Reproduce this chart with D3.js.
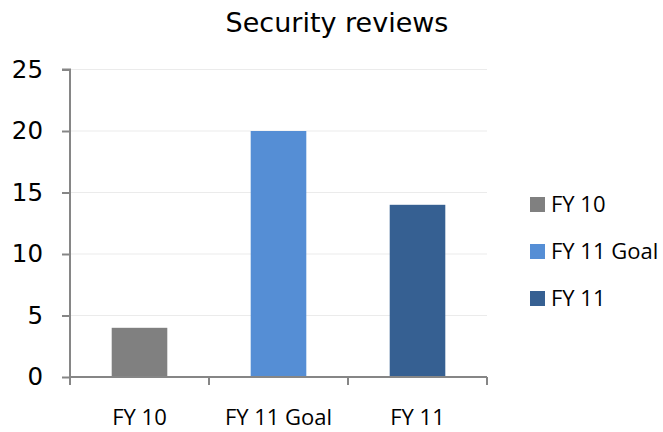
<!DOCTYPE html>
<html>
<head>
<meta charset="utf-8">
<script src="https://cdn.jsdelivr.net/npm/d3@7"></script>
<style>
  body { margin: 0; background: #fff; }
</style>
</head>
<body>
<div id="chart"></div>
<script>
const categories = ["FY 10", "FY 11 Goal", "FY 11"];
const values = [4, 20, 14];
const colors = ["#808080", "#558ed5", "#366092"];
const yTicks = [0, 5, 10, 15, 20, 25];

const width = 663;
const height = 432;
const plotLeft = 70, plotRight = 487, plotTop = 69.5, plotBottom = 377;

const svg = d3.select("#chart")
    .append("svg")
    .attr("width", width)
    .attr("height", height);

const x = d3.scaleBand()
    .domain(categories)
    .range([plotLeft, plotRight])
    .paddingInner(0.6)
    .paddingOuter(0.3);

const y = d3.scaleLinear()
    .domain([0, 25])
    .range([plotBottom, plotTop]);

// gridlines
svg.selectAll("line.grid")
    .data(yTicks.slice(1))
    .enter()
    .append("line")
    .attr("x1", plotLeft)
    .attr("x2", plotRight)
    .attr("y1", d => y(d))
    .attr("y2", d => y(d))
    .attr("stroke", "#ebebeb")
    .attr("stroke-width", 1);

svg.selectAll("rect.bar")
    .data(values)
    .enter()
    .append("rect")
    .attr("x", (d, i) => x(categories[i]))
    .attr("y", d => y(d))
    .attr("width", x.bandwidth())
    .attr("height", d => y(0) - y(d))
    .attr("fill", (d, i) => colors[i]);

// y axis
const yAxis = svg.append("g")
    .attr("transform", `translate(${plotLeft},0)`)
    .call(d3.axisLeft(y).tickValues(yTicks).tickSize(8).tickPadding(19));
yAxis.select(".domain").attr("stroke", "#868686").attr("stroke-width", 2)
    .attr("d", `M-8,${plotTop}H0V${plotBottom + 8}`);
yAxis.selectAll(".tick line").attr("stroke", "#868686").attr("stroke-width", 2);
yAxis.selectAll(".tick text")
    .attr("fill", "#000")
    .style("font-family", "Verdana, 'DejaVu Sans', sans-serif")
    .style("font-size", "24.5px");

// x axis with ticks at category boundaries
const bounds = [plotLeft].concat(categories.map(c => x(c) + x.bandwidth() + x.step() * x.paddingInner() / 2));
bounds[bounds.length - 1] = plotRight;
const xAxis = svg.append("g");
xAxis.append("line")
    .attr("x1", plotLeft).attr("x2", plotRight)
    .attr("y1", plotBottom).attr("y2", plotBottom)
    .attr("stroke", "#868686").attr("stroke-width", 2);
xAxis.selectAll("line.xt")
    .data(bounds)
    .enter()
    .append("line")
    .attr("x1", d => d).attr("x2", d => d)
    .attr("y1", plotBottom).attr("y2", plotBottom + 8)
    .attr("stroke", "#868686").attr("stroke-width", 2);
xAxis.selectAll("text")
    .data(categories)
    .enter()
    .append("text")
    .attr("x", d => x(d) + x.bandwidth() / 2)
    .attr("y", 425)
    .attr("text-anchor", "middle")
    .style("font-family", "'Open Sans', sans-serif")
    .style("font-size", "22px")
    .text(d => d);

// title
svg.append("text")
    .attr("x", 337)
    .attr("y", 32)
    .attr("text-anchor", "middle")
    .style("font-family", "Verdana, 'DejaVu Sans', sans-serif")
    .style("font-size", "27px")
    .text("Security reviews");

// legend
const legend = svg.selectAll("g.legend")
    .data(categories)
    .enter()
    .append("g")
    .attr("transform", (d, i) => `translate(530,${197 + i * 47})`);
legend.append("rect")
    .attr("width", 15).attr("height", 15)
    .attr("fill", (d, i) => colors[i]);
legend.append("text")
    .attr("x", 21)
    .attr("y", 15)
    .style("font-family", "'Open Sans', sans-serif")
    .style("font-size", "22px")
    .text(d => d);
</script>
</body>
</html>
